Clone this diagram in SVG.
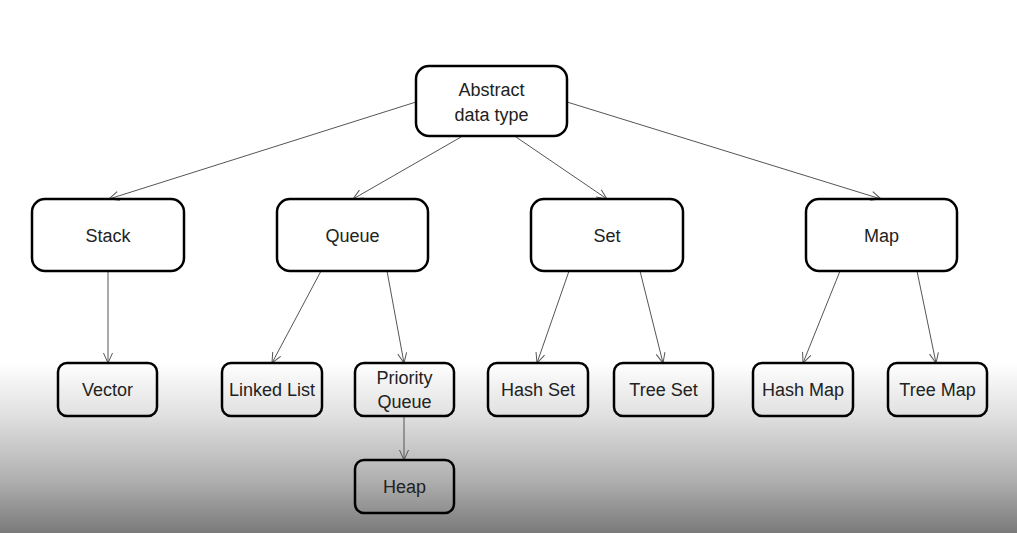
<svg xmlns="http://www.w3.org/2000/svg" width="1017" height="533" viewBox="0 0 1017 533">
<defs>
<linearGradient id="bg" gradientUnits="userSpaceOnUse" x1="0" y1="0" x2="0" y2="533">
<stop offset="0" stop-color="#ffffff"/>
<stop offset="0.68" stop-color="#ffffff"/>
<stop offset="0.78" stop-color="#e0e0e0"/>
<stop offset="0.9" stop-color="#b0b0b0"/>
<stop offset="1" stop-color="#7a7a7a"/>
</linearGradient>
<marker id="arr" viewBox="0 0 12 12" refX="11" refY="6" markerWidth="12" markerHeight="12" markerUnits="userSpaceOnUse" orient="auto">
<path d="M1,1.5 L11,6 L1,10.5" fill="none" stroke="#555" stroke-width="1"/>
</marker>
<style>
.n rect{fill:none;stroke:#000;stroke-width:2.5}
.n text{font-family:"Liberation Sans",Arial,sans-serif;font-size:18px;fill:#222;text-anchor:middle}
.c line{stroke:#555;stroke-width:1;marker-end:url(#arr)}
</style>
</defs>
<rect x="0" y="0" width="1017" height="533" fill="url(#bg)"/>
<g id="connectors" class="c">
<line x1="416" y1="102" x2="109" y2="199"/>
<line x1="461" y1="137" x2="353" y2="199"/>
<line x1="516" y1="137" x2="607" y2="199"/>
<line x1="567" y1="102" x2="881" y2="199"/>
<line x1="108" y1="271" x2="108" y2="363"/>
<line x1="321" y1="271" x2="272" y2="363"/>
<line x1="387" y1="271" x2="404" y2="363"/>
<line x1="569" y1="271" x2="537" y2="363"/>
<line x1="640" y1="271" x2="663" y2="363"/>
<line x1="840" y1="271" x2="803" y2="363"/>
<line x1="917" y1="271" x2="936" y2="363"/>
<line x1="404" y1="416" x2="404" y2="460"/>
</g>
<g id="adt" class="n"><rect x="416" y="66" width="151" height="70" rx="13"/><text x="491.5" y="96">Abstract</text><text x="491.5" y="121">data type</text></g>
<g id="stack" class="n"><rect x="32" y="199" width="152" height="72" rx="13"/><text x="108" y="242">Stack</text></g>
<g id="queue" class="n"><rect x="277" y="199" width="151" height="72" rx="13"/><text x="352.5" y="242">Queue</text></g>
<g id="set" class="n"><rect x="531" y="199" width="152" height="72" rx="13"/><text x="607" y="242">Set</text></g>
<g id="map" class="n"><rect x="806" y="199" width="151" height="72" rx="13"/><text x="881.5" y="242">Map</text></g>
<g id="vector" class="n"><rect x="58" y="363" width="99" height="53" rx="9"/><text x="107.5" y="396">Vector</text></g>
<g id="linkedlist" class="n"><rect x="222" y="363" width="100" height="53" rx="9"/><text x="272" y="396">Linked List</text></g>
<g id="pq" class="n"><rect x="355" y="363" width="99" height="53" rx="9"/><text x="404.5" y="384">Priority</text><text x="404.5" y="408">Queue</text></g>
<g id="hashset" class="n"><rect x="488" y="363" width="100" height="53" rx="9"/><text x="538" y="396">Hash Set</text></g>
<g id="treeset" class="n"><rect x="614" y="363" width="99" height="53" rx="9"/><text x="663.5" y="396">Tree Set</text></g>
<g id="hashmap" class="n"><rect x="753" y="363" width="100" height="53" rx="9"/><text x="803" y="396">Hash Map</text></g>
<g id="treemap" class="n"><rect x="888" y="363" width="99" height="53" rx="9"/><text x="937.5" y="396">Tree Map</text></g>
<g id="heap" class="n"><rect x="355" y="460" width="99" height="53" rx="9"/><text x="404.5" y="493">Heap</text></g>
</svg>
